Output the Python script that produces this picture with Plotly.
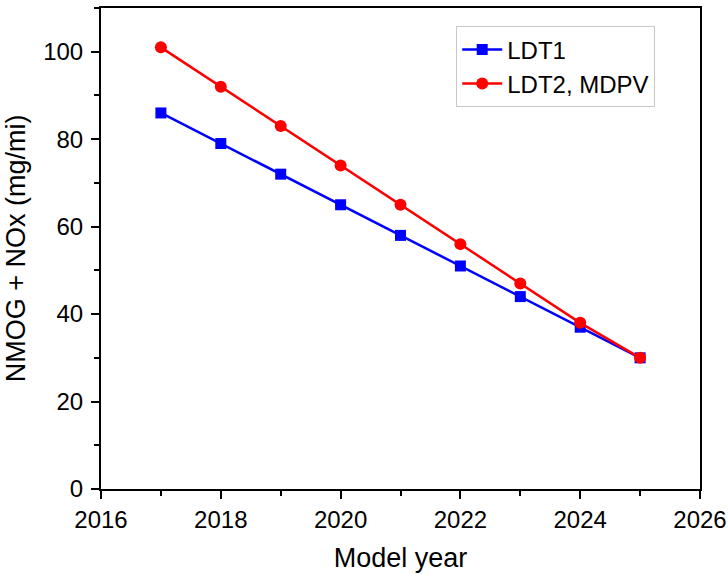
import plotly.graph_objects as go

# Emission standard phase-in by model year
years = [2017, 2018, 2019, 2020, 2021, 2022, 2023, 2024, 2025]
ldt1 = [86, 79, 72, 65, 58, 51, 44, 37, 30]
ldt2_mdpv = [101, 92, 83, 74, 65, 56, 47, 38, 30]

FONT = "Liberation Sans, Arial, sans-serif"

fig = go.Figure()
fig.add_trace(go.Scatter(
    x=years, y=ldt1, name="LDT1", mode="lines+markers",
    line=dict(color="#0000ff", width=2.5),
    marker=dict(symbol="square", size=11, color="#0000ff"),
))
fig.add_trace(go.Scatter(
    x=years, y=ldt2_mdpv, name="LDT2, MDPV", mode="lines+markers",
    line=dict(color="#ff0000", width=2.5),
    marker=dict(symbol="circle", size=12, color="#ff0000"),
))

axis_common = dict(
    showline=True, linecolor="black", linewidth=2, mirror=True,
    ticks="outside", ticklen=8, tickwidth=2, tickcolor="black",
    showgrid=False, zeroline=False, automargin=False,
    ticklabeloverflow="allow",
    tickfont=dict(family=FONT, size=24, color="black"),
)

fig.update_xaxes(
    range=[2016, 2026], dtick=2, tick0=2016,
    minor=dict(ticks="outside", ticklen=5, tickwidth=2, dtick=1, tickcolor="black"),
    title=dict(text="Model year", font=dict(family=FONT, size=27, color="black"), standoff=16),
    **axis_common,
)
fig.update_yaxes(
    range=[0, 110], dtick=20, tick0=0,
    minor=dict(ticks="outside", ticklen=5, tickwidth=2, dtick=10, tickcolor="black"),
    ticklabelstandoff=3,
    title=dict(text="NMOG + NOx (mg/mi)", font=dict(family=FONT, size=27, color="black"), standoff=10),
    **axis_common,
)

fig.update_layout(
    width=728, height=575,
    margin=dict(l=101, r=28, t=8, b=86),
    paper_bgcolor="white", plot_bgcolor="white",
    showlegend=True,
    legend=dict(
        x=0.593, y=0.962, xanchor="left", yanchor="top",
        bgcolor="white", bordercolor="#c8c8c8", borderwidth=1,
        font=dict(family=FONT, size=24, color="black"),
        itemwidth=40, tracegroupgap=0,
    ),
)

fig.write_html("out.html")
